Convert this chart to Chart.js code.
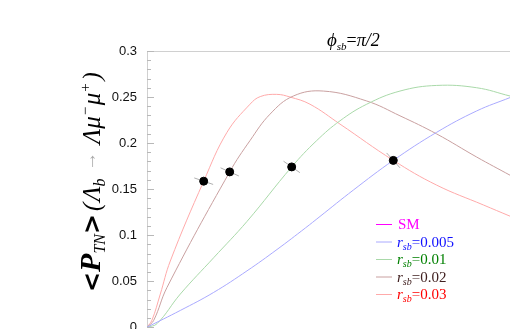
<!DOCTYPE html>
<html>
<head>
<meta charset="utf-8">
<script src="https://cdn.jsdelivr.net/npm/chart.js@4.4.0/dist/chart.umd.min.js"></script>
<style>
  body { margin: 0; background: #fff; }
  #wrap { width: 510px; height: 329px; overflow: hidden; }
</style>
</head>
<body>
<div id="wrap"><canvas id="c" width="510" height="345"></canvas></div>
<script>
// (x axis is hidden / cropped, arbitrary units 0..20)
const blueX  = [0, 1.835, 3.675, 5.51, 7.163, 8.722, 9.532, 11.366, 13.57, 15.961, 18.165, 20];
const blueY  = [0, 0.0182, 0.0378, 0.0612, 0.0844, 0.1077, 0.1203, 0.1489, 0.1812, 0.2117, 0.2349, 0.2494];

const greenX = [0, 0.551, 1.835, 3.675, 5.51, 7.972, 9.35, 10.634, 12.105, 13.939, 15.961, 18.165, 20];
const greenY = [0, 0.0038, 0.036, 0.0755, 0.1149, 0.1741, 0.2027, 0.2242, 0.2422, 0.2565, 0.2626, 0.2601, 0.2511];

const brownX = [0, 0.369, 1.102, 4.556, 5.675, 6.777, 8.061, 9.713, 12.105, 13.939, 15.961, 18.165, 20];
const brownY = [0, 0.0074, 0.0432, 0.1687, 0.2027, 0.2314, 0.2511, 0.2565, 0.2457, 0.2296, 0.2099, 0.1848, 0.1651];

const redX   = [0, 0.275, 0.733, 1.284, 3.124, 4.408, 5.675, 6.24, 7.146, 7.88, 8.98, 10.634, 13.57, 15.961, 18.529, 20];
const redY   = [0, 0.0077, 0.036, 0.0719, 0.1586, 0.2117, 0.2422, 0.2505, 0.2529, 0.25, 0.2422, 0.2206, 0.1812, 0.1543, 0.1328, 0.1206];

// black points on the curves (red, brown, green, blue)
const markerX = [3.124, 4.556, 7.972, 13.57];
const markerY = [0.1586, 0.1687, 0.1741, 0.1812];
const markerTickAngle = [19, 24, 35, 48]; // degrees, the little grey bars

const yTicks = [0, 0.05, 0.1, 0.15, 0.2, 0.25, 0.3];
const yTickLabels = ['0', '0.05', '0.1', '0.15', '0.2', '0.25', '0.3'];

const legendValues = [null, '0.005', '0.01', '0.02', '0.03'];
const legendLineColors = ['#ff00ff', '#aaaaff', '#a9d9a9', '#c9a0a0', '#ffaaaa'];
const legendTextColors = ['#ff00ff', '#1010ff', '#008000', '#402020', '#ff0000'];

const SERIF = '"Liberation Serif", "DejaVu Serif", serif';

function pts(xs, ys) {
    return xs.map((x, i) => ({ x: x, y: ys[i] }));
}

function curve(xs, ys, color) {
    return {
        type: 'line',
        data: pts(xs, ys),
        borderColor: color,
        borderWidth: 1,
        pointRadius: 0,
        tension: 0.4,
        fill: false
    };
}

// draw a run of text pieces left to right
function drawPieces(ctx, x, y, pieces) {
    pieces.forEach(p => {
        ctx.font = p.f;
        ctx.fillStyle = p.c || '#000';
        ctx.fillText(p.t, x, y + (p.dy || 0));
        x += ctx.measureText(p.t).width + (p.sp || 0);
    });
    return x;
}

const decor = {
    id: 'decor',
    beforeDatasetsDraw(chart) {
        const ctx = chart.ctx;
        const xs = chart.scales.x, ys = chart.scales.y;
        ctx.save();
        ctx.strokeStyle = '#b0b0b0';
        ctx.lineWidth = 1;
        markerX.forEach((mx, i) => {
            const px = xs.getPixelForValue(mx), py = ys.getPixelForValue(markerY[i]);
            const a = markerTickAngle[i] * Math.PI / 180, r = 10;
            ctx.beginPath();
            ctx.moveTo(px - r * Math.cos(a), py - r * Math.sin(a));
            ctx.lineTo(px + r * Math.cos(a), py + r * Math.sin(a));
            ctx.stroke();
        });
        ctx.restore();
    },
    afterDraw(chart) {
        const ctx = chart.ctx;
        const a = chart.chartArea;
        const ys = chart.scales.y;
        ctx.save();

        // top frame line
        ctx.strokeStyle = '#d0d0d0';
        ctx.lineWidth = 1;
        ctx.beginPath();
        ctx.moveTo(a.left, a.top + 0.5);
        ctx.lineTo(a.right, a.top + 0.5);
        ctx.stroke();

        // inside ticks, minor every 0.01
        ctx.strokeStyle = '#b8b8b8';
        for (let k = 0; k <= 30; k++) {
            const py = Math.round(ys.getPixelForValue(k / 100)) + 0.5;
            const len = (k % 5 === 0) ? 7 : 4;
            ctx.beginPath();
            ctx.moveTo(a.left, py);
            ctx.lineTo(a.left + len, py);
            ctx.stroke();
        }

        // title
        ctx.textBaseline = 'alphabetic';
        ctx.textAlign = 'left';
        drawPieces(ctx, 327, 46, [
            { t: 'ϕ', f: 'italic 19px ' + SERIF },
            { t: 'sb', f: 'italic 11px ' + SERIF, dy: 4 },
            { t: '=', f: '18px ' + SERIF },
            { t: 'π/2', f: 'italic 18px ' + SERIF }
        ]);

        // legend
        legendValues.forEach((v, i) => {
            const base = 229 + i * 17.5;
            ctx.strokeStyle = legendLineColors[i];
            ctx.lineWidth = 1;
            ctx.beginPath();
            ctx.moveTo(376, base - 4.5);
            ctx.lineTo(392, base - 4.5);
            ctx.stroke();
            const col = legendTextColors[i];
            if (v === null) {
                drawPieces(ctx, 398, base, [{ t: 'SM', f: '15px ' + SERIF, c: col }]);
            } else {
                drawPieces(ctx, 397, base, [
                    { t: 'r', f: 'italic 15px ' + SERIF, c: col },
                    { t: 'sb', f: 'italic 10px ' + SERIF, c: col, dy: 3 },
                    { t: '=' + v, f: '15px ' + SERIF, c: col }
                ]);
            }
        });

        // rotated y label
        ctx.translate(100, 292);
        ctx.rotate(-Math.PI / 2);
        drawPieces(ctx, 0, 0, [
            { t: '<', f: 'bold 24px "DejaVu Sans"' },
            { t: 'P', f: 'italic bold 30px ' + SERIF },
            { t: 'TN', f: 'italic 16px ' + SERIF, dy: 5 },
            { t: '>', f: 'bold 24px "DejaVu Sans"', sp: 3 },
            { t: '(', f: 'italic 25px ' + SERIF, sp: 1 },
            { t: 'Λ', f: 'italic 25px ' + SERIF },
            { t: 'b', f: 'italic 16px ' + SERIF, dy: 5, sp: 3 },
            { t: ' → ', f: '19px ' + SERIF, c: '#aaa', dy: -4, sp: 3 },
            { t: 'Λμ', f: 'italic 25px ' + SERIF },
            { t: '−', f: 'italic 15px ' + SERIF, dy: -10, sp: 1 },
            { t: 'μ', f: 'italic 25px ' + SERIF },
            { t: '+', f: 'italic 15px ' + SERIF, dy: -10, sp: 2 },
            { t: ')', f: 'italic 25px ' + SERIF }
        ]);
        ctx.restore();
    }
};

new Chart(document.getElementById('c'), {
    type: 'scatter',
    data: {
        datasets: [
            {
                type: 'scatter',
                data: pts(markerX, markerY),
                backgroundColor: '#000',
                borderColor: '#000',
                pointRadius: 4,
                pointHoverRadius: 4
            },
            curve(blueX, blueY, '#aaaaff'),
            curve(greenX, greenY, '#a9d9a9'),
            curve(brownX, brownY, '#c9a0a0'),
            curve(redX, redY, '#ffaaaa')
        ]
    },
    options: {
        responsive: false,
        animation: false,
        devicePixelRatio: 1,
        layout: { autoPadding: false, padding: { left: 0, right: 0, top: 51, bottom: 15 } },
        plugins: { legend: { display: false }, tooltip: { enabled: false } },
        scales: {
            x: { type: 'linear', min: 0, max: 20, display: false },
            y: {
                type: 'linear',
                min: 0,
                max: 0.3,
                afterFit(scale) { scale.width = 147; },
                afterBuildTicks(scale) { scale.ticks = yTicks.map(v => ({ value: v })); },
                grid: { display: false, drawTicks: false },
                border: { display: true, color: '#d0d0d0' },
                ticks: {
                    padding: 10,
                    color: '#111',
                    font: { family: '"Liberation Sans", Arial, sans-serif', size: 13 },
                    callback: (v, i) => yTickLabels[i]
                }
            }
        }
    },
    plugins: [decor]
});
</script>
</body>
</html>
